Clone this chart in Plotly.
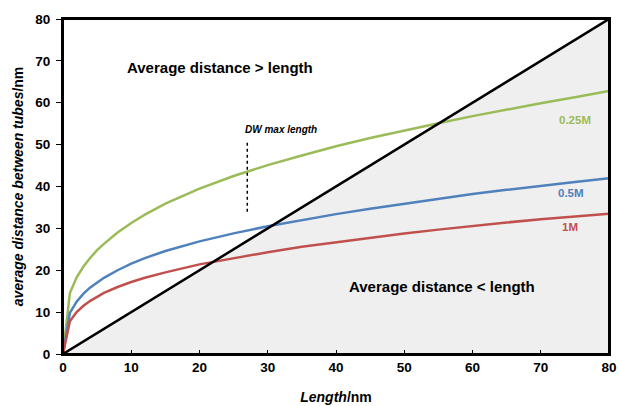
import plotly.graph_objects as go

# values
length_nm = [0, 1, 2, 3, 4, 5, 6, 8, 10, 12, 15, 20, 25, 30, 35, 40, 45, 50, 55, 60, 65, 70, 75, 80]
dist_025M = [0, 14.5, 18.3, 20.9, 23.0, 24.8, 26.3, 29.0, 31.3, 33.3, 35.9, 39.5, 42.5, 45.1, 47.4, 49.6,
             51.6, 53.4, 55.1, 56.8, 58.4, 59.9, 61.3, 62.8]
dist_05M = [0, 9.8, 12.5, 14.4, 15.9, 17.1, 18.2, 20.0, 21.6, 22.9, 24.6, 26.9, 28.8, 30.5, 32.0, 33.4,
            34.7, 35.9, 37.1, 38.2, 39.2, 40.2, 41.1, 42.0]
dist_1M = [0, 7.8, 10.0, 11.5, 12.7, 13.7, 14.6, 16.0, 17.2, 18.2, 19.5, 21.4, 22.9, 24.3, 25.6, 26.7,
           27.8, 28.8, 29.7, 30.6, 31.4, 32.2, 32.9, 33.5]
diag_x = [0, 80]
diag_y = [0, 80]
dw_max_x = [27, 27]
dw_max_y = [34, 50.5]

GREEN = "#9BBB59"
BLUE = "#4F81BD"
RED = "#C0504D"
FONT = "Liberation Sans, Arial, sans-serif"

fig = go.Figure()

# shaded region below the diagonal
fig.add_trace(go.Scatter(x=diag_x, y=diag_y, mode="lines", line=dict(width=0),
                         fill="tozeroy", fillcolor="#efefef", hoverinfo="skip"))

fig.add_trace(go.Scatter(x=length_nm, y=dist_025M, mode="lines", line=dict(color=GREEN, width=2.5), name="0.25M"))
fig.add_trace(go.Scatter(x=length_nm, y=dist_05M, mode="lines", line=dict(color=BLUE, width=2.5), name="0.5M"))
fig.add_trace(go.Scatter(x=length_nm, y=dist_1M, mode="lines", line=dict(color=RED, width=2.5), name="1M"))
fig.add_trace(go.Scatter(x=diag_x, y=diag_y, mode="lines", line=dict(color="black", width=2.5)))
fig.add_trace(go.Scatter(x=dw_max_x, y=dw_max_y, mode="lines", line=dict(color="black", width=1.5, dash="dot")))

# annotations
notes = [
    dict(x=23, y=68.5, text="<b>Average distance > length</b>", size=15, color="black"),
    dict(x=55.5, y=16.2, text="<b>Average distance < length</b>", size=15, color="black"),
    dict(x=32, y=53.7, text="<b><i>DW max length</i></b>", size=10, color="black"),
    dict(x=75.0, y=55.8, text="<b>0.25M</b>", size=11.5, color=GREEN),
    dict(x=74.5, y=38.5, text="<b>0.5M</b>", size=11.5, color=BLUE),
    dict(x=74.3, y=30.3, text="<b>1M</b>", size=11.5, color=RED),
]
for n in notes:
    fig.add_annotation(x=n["x"], y=n["y"], text=n["text"], showarrow=False,
                       font=dict(family=FONT, size=n["size"], color=n["color"]))

# frame around the plot area
fig.add_shape(type="rect", xref="paper", yref="paper", x0=0, y0=0, x1=1, y1=1,
              line=dict(color="black", width=2), layer="above")

fig.update_layout(
    width=619, height=406,
    margin=dict(l=63, r=10, t=19, b=52),
    plot_bgcolor="white", paper_bgcolor="white",
    showlegend=False,
    font=dict(family=FONT, size=14, color="black"),
)
fig.update_xaxes(
    range=[0, 80], dtick=10, showgrid=False, zeroline=False, automargin=False,
    showline=True, linecolor="black", linewidth=2, mirror=True,
    ticks="inside", ticklen=4, tickcolor="black",
    tickfont=dict(family=FONT, size=13.5, color="black"),
    tickprefix="<b>", ticksuffix="</b>",
    title=dict(text="<b><i>Length</i>/nm</b>", font=dict(family=FONT, size=14), standoff=18),
)
fig.update_yaxes(
    range=[0, 80], dtick=10, showgrid=False, zeroline=False, automargin=False,
    showline=True, linecolor="black", linewidth=2, mirror=True,
    ticks="outside", ticklen=5, tickcolor="black", ticklabelstandoff=3,
    tickfont=dict(family=FONT, size=13.5, color="black"),
    tickprefix="<b>", ticksuffix="</b>",
    title=dict(text="<b><i>average distance between tubes</i>/nm</b>", font=dict(family=FONT, size=14), standoff=8),
)

# drop the default body margin so the figure fills the window exactly
fig.write_html("out.html", config={"displayModeBar": False},
               post_script="document.body.style.margin='0';")
